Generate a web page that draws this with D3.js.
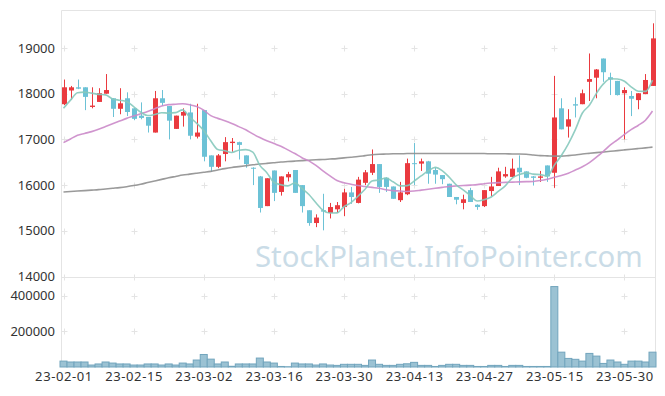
<!DOCTYPE html>
<html lang="ko">
<head>
<meta charset="UTF-8">
<title>Candlestick</title>
<script src="https://cdn.jsdelivr.net/npm/d3@7/dist/d3.min.js"></script>
<style>
  body { margin: 0; background: #fff; }
  svg { display: block; font-family: "Noto Sans", sans-serif; }
</style>
</head>
<body>
<svg width="665" height="396"></svg>
<script>
    // 거래일
    var dates = [
        "23-02-01", "23-02-02", "23-02-03", "23-02-06", "23-02-07", "23-02-08", "23-02-09", "23-02-10", "23-02-13", "23-02-14",
        "23-02-15", "23-02-16", "23-02-17", "23-02-20", "23-02-21", "23-02-22", "23-02-23", "23-02-24", "23-02-27", "23-02-28",
        "23-03-02", "23-03-03", "23-03-06", "23-03-07", "23-03-08", "23-03-09", "23-03-10", "23-03-13", "23-03-14", "23-03-15",
        "23-03-16", "23-03-17", "23-03-20", "23-03-21", "23-03-22", "23-03-23", "23-03-24", "23-03-27", "23-03-28", "23-03-29",
        "23-03-30", "23-03-31", "23-04-03", "23-04-04", "23-04-05", "23-04-06", "23-04-07", "23-04-10", "23-04-11", "23-04-12",
        "23-04-13", "23-04-14", "23-04-17", "23-04-18", "23-04-19", "23-04-20", "23-04-21", "23-04-24", "23-04-25", "23-04-26",
        "23-04-27", "23-04-28", "23-05-02", "23-05-03", "23-05-04", "23-05-08", "23-05-09", "23-05-10", "23-05-11", "23-05-12",
        "23-05-15", "23-05-16", "23-05-17", "23-05-18", "23-05-19", "23-05-22", "23-05-23", "23-05-24", "23-05-25", "23-05-26",
        "23-05-30", "23-05-31", "23-06-01", "23-06-02", "23-06-05"
    ];
    var opens = [
        17770, 18070, 18140, 18140, 17710, 17820, 18000, 17900, 17670, 17900,
        17680, 17520, 17490, 17150, 17900, 17730, 17230, 17520, 17590, 17060,
        17640, 16650, 16400, 16680, 16920, 16940, 16650, 16380, 16190, 15540,
        16320, 15850, 16170, 16330, 16000, 15450, 15170, 15450, 15390, 15470,
        15520, 15840, 15610, 16050, 16270, 16460, 16160, 15970, 15670, 15800,
        16480, 16470, 16520, 16330, 16220, 16030, 15740, 15610, 15890, 15570,
        15540, 15870, 15980, 16190, 16180, 16380, 16300, 16190, 16160, 16430,
        16270, 17680, 17280, 17770, 17770, 18260, 18350, 18770, 18360, 18280,
        18010, 17950, 17860, 17990, 18170
    ];
    var highs = [
        18310, 18170, 18310, 18140, 18140, 18120, 18430, 17900, 18120, 18030,
        17690, 17810, 17490, 18060, 18080, 17730, 17520, 17680, 17780, 17780,
        17640, 16650, 16680, 17050, 17030, 16950, 16650, 16390, 16200, 16150,
        16320, 16190, 16290, 16330, 16000, 15450, 15360, 15810, 15610, 15630,
        15920, 15960, 16180, 16330, 16780, 16460, 16170, 15970, 16070, 16580,
        16920, 16580, 16530, 16380, 16220, 16030, 15740, 15790, 15940, 15580,
        15890, 16180, 16380, 16400, 16580, 16650, 16300, 16200, 16310, 16430,
        18390, 17900, 17660, 17920, 18090, 18880, 18540, 18770, 18460, 18280,
        18140, 18060, 18010, 18430, 19540
    ];
    var lows = [
        17750, 17870, 18100, 17640, 17680, 17820, 18000, 17490, 17550, 17510,
        17420, 17440, 17150, 17150, 17730, 17000, 17230, 17280, 17000, 17020,
        16520, 16290, 16370, 16520, 16730, 16560, 16380, 16000, 15400, 15540,
        15650, 15770, 16080, 15830, 15400, 15110, 15080, 15010, 15270, 15390,
        15320, 15590, 15600, 16000, 16220, 15830, 15850, 15700, 15630, 15780,
        16000, 16310, 16030, 16030, 16020, 15740, 15580, 15470, 15630, 15460,
        15520, 15760, 15980, 16160, 16170, 16000, 16150, 15990, 16070, 16070,
        15940, 17220, 17040, 17480, 17770, 17840, 17900, 18260, 17970, 17960,
        17000, 17510, 17660, 17990, 18170
    ];
    var closes = [
        18140, 18140, 18110, 17930, 17740, 18010, 18080, 17670, 17790, 17600,
        17450, 17470, 17300, 17900, 17800, 17410, 17520, 17600, 17080, 17150,
        16620, 16400, 16650, 16940, 16950, 16880, 16460, 16370, 15500, 16150,
        15830, 16190, 16240, 15830, 15540, 15170, 15290, 15420, 15520, 15560,
        15840, 15740, 16120, 16280, 16460, 15960, 15960, 15700, 15840, 16480,
        16460, 16520, 16250, 16230, 16130, 15740, 15680, 15690, 15630, 15520,
        15890, 15970, 16300, 16240, 16360, 16280, 16160, 16160, 16190, 16190,
        17480, 17220, 17440, 17740, 18010, 18320, 18530, 18470, 18310, 17970,
        18080, 17890, 18010, 18300, 19210
    ];
    var volumes = [
        33000, 28000, 28000, 28000, 11000, 17000, 28000, 22000, 17000, 17000,
        11000, 11000, 17000, 17000, 11000, 17000, 11000, 22000, 17000, 39000,
        70000, 44000, 17000, 28000, 4000, 17000, 17000, 17000, 50000, 28000,
        22000, 3000, 1500, 22000, 17000, 17000, 11000, 17000, 11000, 9000,
        15000, 15000, 15000, 9000, 39000, 15000, 9000, 9000, 15000, 18000,
        26000, 9000, 9000, 3000, 9000, 15000, 15000, 9000, 9000, 3000,
        3000, 9000, 9000, 3000, 9000, 9000, 3000, 3000, 3000, 3000,
        450000, 83000, 48000, 43000, 33000, 76000, 61000, 20000, 39000, 28000,
        15000, 33000, 33000, 28000, 83000
    ];
    // 5일선 앞부분 (창 이전 데이터 포함)
    var ma5Head = [17680, 17860, 18020, 18035];
    // 20일선
    var ma20 = [
        16930, 17010, 17090, 17130, 17170, 17220, 17280, 17340, 17400, 17460,
        17510, 17560, 17610, 17670, 17730, 17760, 17770, 17780, 17760, 17720,
        17640, 17520, 17460, 17410, 17350, 17280, 17210, 17120, 17040, 16970,
        16910, 16850, 16770, 16690, 16600, 16530, 16430, 16310, 16200, 16100,
        16050, 16020, 15990, 15970, 15950, 15930, 15900, 15880, 15870, 15860,
        15870, 15890, 15910, 15930, 15950, 15970, 15980, 15990, 16000, 16010,
        16030, 16045, 16055, 16060, 16065, 16070, 16075, 16080, 16100, 16130,
        16170, 16210, 16260, 16330, 16400, 16490, 16610, 16740, 16880, 16990,
        17110, 17220, 17310, 17420, 17620
    ];
    // 장기 이동평균선
    var maLong = [
        15850, 15860, 15870, 15880, 15890, 15900, 15915, 15930, 15945, 15965,
        15990, 16020, 16055, 16090, 16125, 16160, 16190, 16220, 16240, 16260,
        16280, 16300, 16330, 16360, 16385, 16405, 16425, 16445, 16460, 16475,
        16490, 16505, 16515, 16525, 16535, 16545, 16555, 16560, 16570, 16580,
        16595, 16610, 16625, 16645, 16665, 16675, 16680, 16685, 16685, 16690,
        16690, 16690, 16690, 16690, 16690, 16690, 16690, 16690, 16690, 16690,
        16690, 16685, 16685, 16685, 16680, 16680, 16675, 16660, 16645, 16640,
        16635, 16635, 16645, 16660, 16680, 16695, 16710, 16725, 16740, 16755,
        16770, 16785, 16800, 16815, 16830
    ];
    var priceTicks = [14000, 15000, 16000, 17000, 18000, 19000];
    var volumeTicks = [200000, 400000];
    var dateTicks = ["23-02-01", "23-02-15", "23-03-02", "23-03-16", "23-03-30",
        "23-04-13", "23-04-27", "23-05-15", "23-05-30"];
    var watermark = "StockPlanet.InfoPointer.com";

    // 5일선: 종가로 계산
    var ma5 = closes.map(function (c, i) {
        if (i < 4) return ma5Head[i];
        return d3.mean(closes.slice(i - 4, i + 1));
    });

    var upColor = "#ea3a3f",
        downColor = "#6cc2d6";

    var plotLeft = 61.5,
        plotRight = 655.5,
        plotTop = 10.5,
        plotMid = 277.5,
        plotBottom = 367;

    var svg = d3.select('svg');

    var x = d3.scalePoint().domain(dates).range([63.5, 652.5]);
    var step = x.step();
    var y = d3.scaleLinear().domain([14000, 19000]).range([276.5, 48]);
    var yv = d3.scaleLinear().domain([0, 400000]).range([plotBottom, 295.5]);

    // 워터마크 (폭 390px 에 맞춤)
    var wm = svg.append('text')
        .attr('x', 255)
        .attr('y', 267)
        .attr('font-size', 32)
        .attr('fill', '#cadce7')
        .text(watermark);
    var wmLen = wm.node().getComputedTextLength();
    wm.attr('font-size', 32 * 388 / wmLen);

    // 테두리
    var frame = svg.append('g')
        .attr('stroke', '#e4e4e4')
        .attr('fill', 'none');
    frame.append('line').attr('x1', plotLeft).attr('x2', plotLeft).attr('y1', plotTop).attr('y2', plotBottom);
    frame.append('line').attr('x1', plotRight).attr('x2', plotRight).attr('y1', plotTop).attr('y2', plotBottom);
    frame.append('line').attr('x1', plotLeft).attr('x2', plotRight).attr('y1', plotTop).attr('y2', plotTop);
    frame.append('line').attr('x1', plotLeft).attr('x2', plotRight).attr('y1', plotMid).attr('y2', plotMid);

    // 격자 십자 표시
    var crossPts = [];
    dateTicks.forEach(function (d) {
        priceTicks.forEach(function (p) { crossPts.push([x(d), y(p)]); });
        volumeTicks.forEach(function (v) { crossPts.push([x(d), yv(v)]); });
    });
    svg.append('g')
        .attr('stroke', '#e4e4e4')
        .selectAll('path')
        .data(crossPts)
        .enter().append('path')
        .attr('d', function (d) {
            var cx = Math.round(d[0]) + 0.5, cy = Math.round(d[1]) + 0.5;
            return 'M' + (cx - 3) + ',' + cy + 'H' + (cx + 3) + 'M' + cx + ',' + (cy - 3) + 'V' + (cy + 3);
        });

    // 거래량
    svg.append('g')
        .selectAll('rect')
        .data(dates)
        .enter().append('rect')
        .attr('x', function (d) { return x(d) - step / 2; })
        .attr('width', step)
        .attr('y', function (d, i) { return yv(volumes[i]); })
        .attr('height', function (d, i) { return plotBottom - yv(volumes[i]); })
        .attr('fill', '#9bc2d3')
        .attr('stroke', '#72a5bd')
        .attr('stroke-width', 1);

    // 캔들
    var candle = svg.append('g')
        .selectAll('g')
        .data(dates)
        .enter().append('g')
        .attr('fill', function (d, i) { return closes[i] >= opens[i] ? upColor : downColor; })
        .attr('stroke', function (d, i) { return closes[i] >= opens[i] ? upColor : downColor; });

    candle.append('line')
        .attr('x1', function (d) { return Math.round(x(d)) + 0.5; })
        .attr('x2', function (d) { return Math.round(x(d)) + 0.5; })
        .attr('y1', function (d, i) { return y(highs[i]); })
        .attr('y2', function (d, i) { return y(lows[i]); })
        .attr('stroke-width', 1);

    candle.append('rect')
        .attr('x', function (d) { return Math.round(x(d)) - 2; })
        .attr('width', 5)
        .attr('y', function (d, i) { return y(Math.max(opens[i], closes[i])); })
        .attr('height', function (d, i) { return Math.max(1, Math.abs(y(opens[i]) - y(closes[i]))); })
        .attr('stroke', 'none');

    // 이동평균선
    var line = d3.line()
        .x(function (d, i) { return x(dates[i]); })
        .y(function (d) { return y(d); })
        .curve(d3.curveMonotoneX);

    [[maLong, '#8f8f8f'], [ma20, '#cb8ac9'], [ma5, '#86c9bc']].forEach(function (s) {
        svg.append('path')
            .attr('d', line(s[0]))
            .attr('fill', 'none')
            .attr('stroke', s[1])
            .attr('stroke-width', 1.6)
            .attr('stroke-opacity', 0.9);
    });

    // 축
    function styleAxis(g) {
        g.select('.domain').remove();
        g.selectAll('text')
            .attr('font-size', 13)
            .attr('font-family', '"Noto Sans", sans-serif')
            .attr('fill', '#333');
    }

    svg.append('g')
        .attr('transform', 'translate(' + (plotLeft - 0.5) + ',0)')
        .call(d3.axisLeft(y).tickValues(priceTicks).tickSize(0).tickPadding(6).tickFormat(d3.format('d')))
        .call(styleAxis);

    svg.append('g')
        .attr('transform', 'translate(' + (plotLeft - 0.5) + ',0)')
        .call(d3.axisLeft(yv).tickValues(volumeTicks).tickSize(0).tickPadding(6).tickFormat(d3.format('d')))
        .call(styleAxis);

    svg.append('g')
        .attr('transform', 'translate(0,' + plotBottom + ')')
        .call(d3.axisBottom(x).tickValues(dateTicks).tickSize(0).tickPadding(5))
        .call(styleAxis)
        .selectAll('text')
        .attr('letter-spacing', 0.6);
</script>
</body>
</html>
